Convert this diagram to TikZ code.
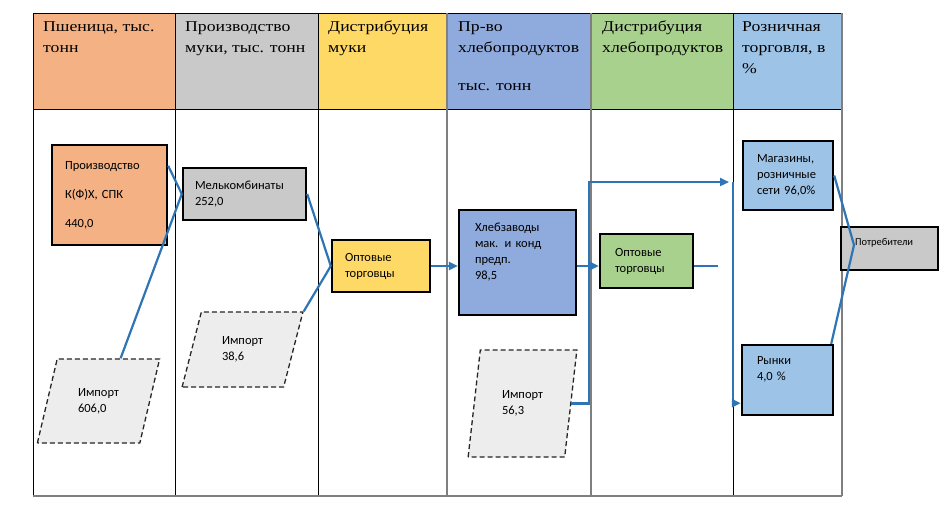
\documentclass[tikz,border=0pt]{standalone}
\usepackage{fontspec}
\setmainfont{Liberation Serif}
\newfontfamily\headfont[FakeStretch=1.18]{Liberation Serif}
\newfontfamily\boxfont{Carlito}
\usetikzlibrary{arrows.meta,shapes.geometric}

\definecolor{wheat}{HTML}{F4B183}
\definecolor{flour}{HTML}{C9C9C9}
\definecolor{flourtrade}{HTML}{FFD966}
\definecolor{bakery}{HTML}{8FAADC}
\definecolor{breadtrade}{HTML}{A9D18E}
\definecolor{retail}{HTML}{9DC3E6}
\definecolor{importfill}{HTML}{EDEDED}
\definecolor{flowblue}{HTML}{2E75B6}
\definecolor{gridgray}{HTML}{7F7F7F}

\tikzset{
  headtext/.style={anchor=north west, inner sep=0pt, align=left,
    font=\headfont\fontsize{15}{21}\selectfont},
  stagebox/.style={draw=black, line width=2.4pt, inner ysep=0pt, align=left,
    font=\boxfont\fontsize{12.5}{16}\selectfont},
  importbox/.style={trapezium, trapezium stretches=true, draw=black!85,
    line width=1.3pt, dash pattern=on 5pt off 3pt, fill=importfill,
    inner sep=0pt, align=left, font=\boxfont\fontsize{12.5}{16}\selectfont},
  flow/.style={draw=flowblue, line width=2.2pt},
  >={Triangle[length=9pt,width=8pt]}
}

\begin{document}
\begin{tikzpicture}[x=1pt,y=-1pt]
\useasboundingbox[fill=white] (0,0) rectangle (944,504);
% The header cells
\foreach \xa/\xb/\col in {33/175/wheat,175/318/flour,318/447/flourtrade,447/591/bakery,591/733/breadtrade,733/842/retail}
{
  \fill[\col] (\xa,13) rectangle (\xb,109);
}
% The grid
\draw[line width=0.9pt] (33,13) -- (842,13);
\draw[line width=0.9pt] (33,109) -- (842,109);
\foreach \x in {33,175,318,733}
  \draw[line width=0.9pt] (\x,13) -- (\x,496);
\foreach \x in {447,591,842}
  \draw[gridgray,line width=1.2pt] (\x,13) -- (\x,496);
\draw[gridgray,line width=2pt] (33,496) -- (842,496);

% The header texts
\node[headtext] (h-wheat) at (43,21) {Пшеница, тыс.\\тонн};
\node[headtext] (h-flour) at (185,21) {Производство\\муки, тыс. тонн};
\node[headtext] (h-flourtrade) at (328,21) {Дистрибуция\\муки};
\node[headtext] (h-bakery) at (458,21) {Пр-во\\хлебопродуктов\\[17pt]тыс. тонн};
\node[headtext] (h-breadtrade) at (602,21) {Дистрибуция\\хлебопродуктов};
\node[headtext] (h-retail) at (742,21) {Розничная\\торговля, в\\\%};

% The stages
\node[stagebox,fill=wheat,minimum height=100pt,text width=89pt,inner xsep=13pt] (proizv) at (109.5,195) {Производство\\[13pt]К(Ф)Х, СПК\\[13pt]440,0};
\node[stagebox,fill=flour,minimum height=52pt,text width=99pt,inner xsep=12pt] (melk) at (244.5,194) {Мелькомбинаты\\252,0};
\node[stagebox,fill=flourtrade,minimum height=52pt,text width=72pt,inner xsep=13pt] (opt1) at (381,266) {Оптовые\\торговцы};
\node[stagebox,fill=bakery,minimum height=105pt,text width=85pt,inner xsep=16pt] (hleb) at (517.5,262.5) {Хлебзаводы\\мак. и конд\\предп.\\98,5\\[7pt]\mbox{}};
\node[stagebox,fill=breadtrade,minimum height=54pt,text width=63pt,inner xsep=15pt] (opt2) at (646.5,261) {Оптовые\\торговцы};
\node[stagebox,fill=retail,minimum height=69pt,text width=62pt,inner xsep=14pt] (magaz) at (788,175.5) {Магазины,\\розничные\\сети 96,0\%};
\node[stagebox,fill=retail,minimum height=70pt,text width=61pt,inner xsep=15pt] (rynki) at (787.5,380) {Рынки\\4,0 \%\\[7pt]\mbox{}};
\node[stagebox,fill=flour,minimum height=43pt,text width=69pt,inner xsep=14pt,font=\boxfont\fontsize{10.5}{12}\selectfont] (potreb) at (889.5,248.5) {Потребители\\[2pt]\mbox{}};

% The imports
\node[importbox,trapezium left angle=69,trapezium right angle=111,minimum width=123pt,minimum height=84pt] (imp1) at (98.5,401) {Импорт\\606,0};
\node[importbox,trapezium left angle=69.5,trapezium right angle=110.5,minimum width=121pt,minimum height=75pt] (imp2) at (242.5,349.5) {Импорт\\38,6};
\node[importbox,trapezium left angle=77,trapezium right angle=103,minimum width=109pt,minimum height=107pt] (imp3) at (522.5,403.5) {Импорт\\56,3};

% The flows
\coordinate (up) at (589,182);
\coordinate (junc) at (733,182);
\coordinate (open) at (718,266);
\coordinate (meet) at (854,245);
\draw[flow] ([yshift=-22pt]proizv.north east) -- (melk.west);
\draw[flow] ([xshift=12pt]imp1.top side) -- (melk.west);
\draw[flow] (melk.east) -- (opt1.west);
\draw[flow] (imp2.top right corner) -- (opt1.west);
\draw[flow,->] (opt1.east) -- (opt1.east -| hleb.west);
\draw[flow,->] (opt1.east -| hleb.east) -- (opt1.east -| opt2.west);
\draw[flow] (open -| opt2.east) -- (open);
\draw[flow,->] (imp3.right side) -| (up) -- ([xshift=-4pt]junc);
\draw[flow,->] (junc) |- ([yshift=13pt]rynki.south west);
\draw[flow] (magaz.east) -- (meet);
\draw[flow] ([xshift=-3pt]rynki.north east) -- (meet);

\end{tikzpicture}
\end{document}
